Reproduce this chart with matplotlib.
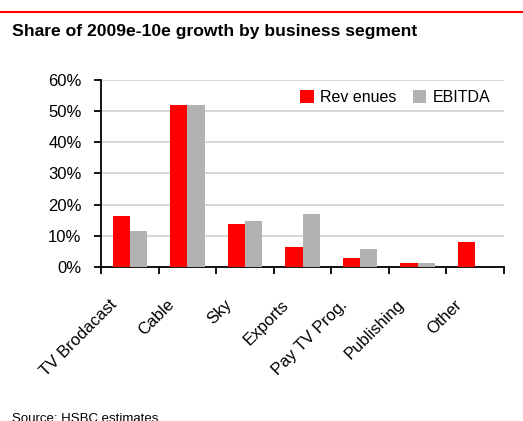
import matplotlib
matplotlib.use("Agg")
import matplotlib.pyplot as plt
import matplotlib.transforms as mtransforms
import numpy as np

plt.rcParams['font.family'] = ['Liberation Sans', 'DejaVu Sans']

segments = ['TV Brodacast', 'Cable', 'Sky', 'Exports', 'Pay TV Prog.', 'Publishing', 'Other']
revenues = [16.5, 52.0, 13.7, 6.5, 3.0, 1.4, 8.1]
ebitda = [11.6, 52.0, 14.8, 17.1, 5.9, 1.4, 0.0]

red = '#ff0000'
grey = '#b2b2b2'

fig = plt.figure(figsize=(5.23, 4.21), dpi=100)
ax = fig.add_axes([0.1931, 0.3658, 0.7706, 0.4442])

x = np.arange(len(segments))
w = 0.30
ax.bar(x - w / 2, revenues, w, color=red, label='Rev enues', zorder=3)
ax.bar(x + w / 2, ebitda, w, color=grey, label='EBITDA', zorder=3)

ax.set_ylim(0, 60)
ax.set_xlim(-0.5, len(segments) - 0.5)
ax.set_yticks(np.arange(0, 61, 10))
ax.set_yticklabels([f'{v}%' for v in range(0, 61, 10)], fontsize=12)
ax.yaxis.grid(True, color='#d4d4d4', linewidth=1.3, zorder=0)
ax.set_axisbelow(True)

# category boundaries carry the ticks, labels sit at the centres
ax.set_xticks(np.arange(-0.5, len(segments), 1.0))
ax.set_xticklabels([])
ax.set_xticks(x, minor=True)
ax.set_xticklabels(segments, minor=True, rotation=45, ha='right', va='top',
                   rotation_mode='anchor', fontsize=12)
ax.tick_params(axis='x', which='major', direction='out', length=5, width=1.3)
ax.tick_params(axis='x', which='minor', length=0, pad=21.5)
ax.tick_params(axis='y', direction='out', length=5, width=1.3, pad=9)
shift = mtransforms.ScaledTranslation(-0.21, 0, fig.dpi_scale_trans)
for lab in ax.get_xticklabels(minor=True):
    lab.set_transform(lab.get_transform() + shift)

for side in ['top', 'right']:
    ax.spines[side].set_visible(False)
for side in ['left', 'bottom']:
    ax.spines[side].set_linewidth(1.3)

ax.legend(loc='center left', bbox_to_anchor=(0.475, 0.905), ncol=2, frameon=False,
          fontsize=11.5, handlelength=0.85, handleheight=0.85, handletextpad=0.4,
          columnspacing=1.0, borderpad=0)

fig.add_artist(plt.Line2D([0, 1], [1 - 12 / 421, 1 - 12 / 421], color=red, linewidth=1.5))
fig.text(12 / 523, 1 - 36 / 421, 'Share of 2009e-10e growth by business segment',
         fontsize=12.6, fontweight='bold', ha='left', va='baseline')
fig.text(12 / 523, -1 / 421, 'Source: HSBC estimates', fontsize=9.5,
         ha='left', va='baseline')

fig.savefig('out.png', dpi=100)
